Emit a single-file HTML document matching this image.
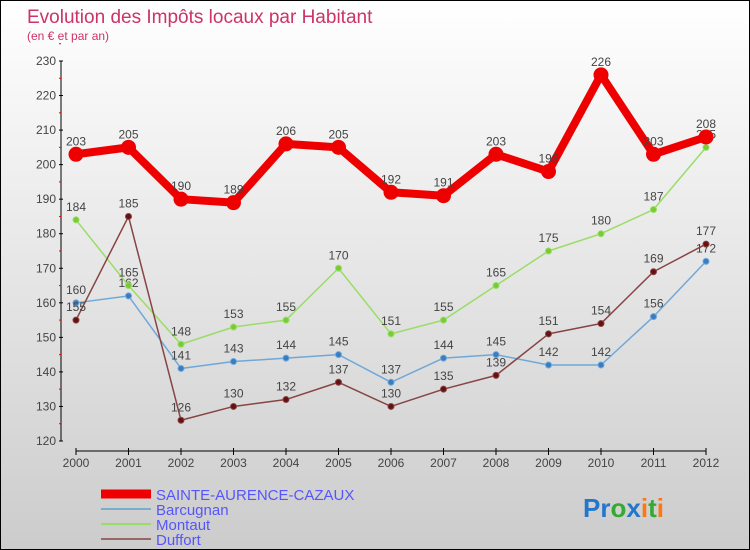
<!DOCTYPE html>
<html><head><meta charset="utf-8"><style>
body{margin:0}
#c{width:750px;height:550px;position:relative;box-sizing:border-box;border:1px solid #000;background:linear-gradient(#fff,#ccc);font-family:"Liberation Sans",sans-serif;overflow:hidden}
</style></head><body>
<div id="c">
<svg id="s" width="750" height="550" style="position:absolute;left:0;top:0">
<text x="26" y="22" font-size="19" fill="#cc3366">Evolution des Impôts locaux par Habitant</text>
<text x="26" y="39" font-size="12" fill="#cc3366">(en € et par an)</text>
<g id="axes"></g><g id="series"></g>
<g id="legend" font-size="15" fill="#5555ff">
<line x1="100" y1="493" x2="150" y2="493" stroke="#e00" stroke-width="9"/>
<text x="155" y="499">SAINTE-AURENCE-CAZAUX</text>
<line x1="100" y1="508" x2="150" y2="508" stroke="#7aaccc" stroke-width="2"/>
<text x="155" y="514">Barcugnan</text>
<line x1="100" y1="523" x2="150" y2="523" stroke="#99dd66" stroke-width="2"/>
<text x="155" y="529">Montaut</text>
<line x1="100" y1="538" x2="150" y2="538" stroke="#996666" stroke-width="2"/>
<text x="155" y="544">Duffort</text>
</g>
<g font-size="26" font-weight="bold">
<text x="582" y="516"><tspan fill="#2277cc">Pr</tspan><tspan fill="#33aa33">o</tspan><tspan fill="#2277cc">x</tspan><tspan fill="#ff7711">i</tspan><tspan fill="#33aa33">t</tspan><tspan fill="#ff7711">i</tspan></text>
</g>
</svg>
</div>
<script>
const years=[2000,2001,2002,2003,2004,2005,2006,2007,2008,2009,2010,2011,2012];
const yTicks=[120,130,140,150,160,170,180,190,200,210,220,230];
const sainte=[203,205,190,189,206,205,192,191,203,198,226,203,208];
const barcugnan=[160,162,141,143,144,145,137,144,145,142,142,156,172];
const montaut=[184,165,148,153,155,170,151,155,165,175,180,187,205];
const duffort=[155,185,126,130,132,137,130,135,139,151,154,169,177];
const NS="http://www.w3.org/2000/svg";
function X(i){return 75+i*(630/(years.length-1));}
function Y(v){return 440-(v-120)*(380/110);}
function mk(t,a,p){const e=document.createElementNS(NS,t);for(const k in a)e.setAttribute(k,a[k]);p.appendChild(e);return e;}
const ax=document.getElementById('axes');
let e=mk('line',{x1:60,y1:Y(230),x2:60,y2:Y(120),stroke:'#000','stroke-width':1},ax);


yTicks.forEach(v=>{
 mk('line',{x1:58,y1:Y(v),x2:62,y2:Y(v),stroke:'#000'},ax);
 mk('line',{x1:58,y1:Y(v+5),x2:60,y2:Y(v+5),stroke:'#e00'},ax);
 const t=mk('text',{x:55,y:Y(v)+4,'text-anchor':'end','font-size':12,fill:'#444'},ax);t.textContent=v;
 
 
});
e=mk('line',{x1:X(0),y1:450,x2:X(12),y2:450,stroke:'#000'},ax);


years.forEach((y,i)=>{
 mk('line',{x1:X(i),y1:447,x2:X(i),y2:454,stroke:'#000'},ax);
 const t=mk('text',{x:X(i),y:466,'text-anchor':'middle','font-size':12,fill:'#444'},ax);t.textContent=y;
 
 
});
const sg=document.getElementById('series');
function draw(data,color,w,r,dot,name){
 const g=mk('g',{},sg);
 
 
 mk('polyline',{points:data.map((v,i)=>X(i)+','+Y(v)).join(' '),fill:'none',stroke:color,'stroke-width':w,'stroke-linejoin':'round'},g);
 data.forEach((v,i)=>{
  const c=mk('circle',{cx:X(i),cy:Y(v),r:r,fill:dot,stroke:color,'stroke-width':1},g);
  
  
  const t=mk('text',{x:X(i),y:Y(v)-9,'text-anchor':'middle','font-size':12,fill:'#444'},g);t.textContent=v;
  
  
 });
}
draw(barcugnan,'#6fa8d8',1.5,3,'#3a7cc0','barcugnan');
draw(montaut,'#99dd66',1.5,3,'#77cc33','montaut');
draw(duffort,'#884444',1.5,3,'#661111','duffort');
draw(sainte,'#ee0000',8,7,'#ee0000','sainte');
</script>
</body></html>
